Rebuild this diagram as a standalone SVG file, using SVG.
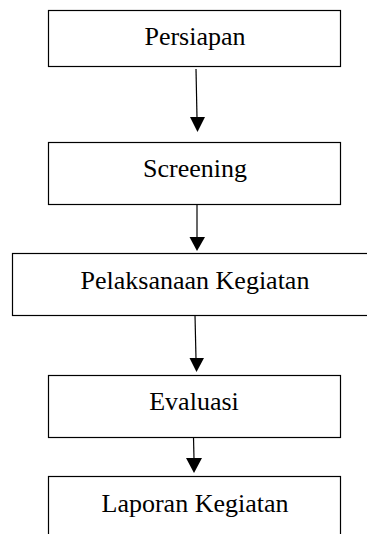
<svg xmlns="http://www.w3.org/2000/svg" width="367" height="534" viewBox="0 0 367 534">
<style>
.box{fill:#fff;stroke:#000;stroke-width:1.2}
.lbl{font-family:"Liberation Serif","Times New Roman",serif;font-size:26px;fill:#000;text-anchor:middle}
.edge{stroke:#000;stroke-width:1.2;fill:none}
.head{fill:#000}
</style>
<rect width="367" height="534" fill="#fff"/>
<g id="n1"><rect class="box" x="48.5" y="10.5" width="292" height="56"/><text class="lbl" x="195" y="45">Persiapan</text></g>
<g id="n2"><rect class="box" x="48.5" y="142.5" width="292" height="62"/><text class="lbl" x="195" y="177">Screening</text></g>
<g id="n3"><rect class="box" x="12.5" y="253.5" width="360" height="62"/><text class="lbl" x="195" y="289">Pelaksanaan Kegiatan</text></g>
<g id="n4"><rect class="box" x="48.5" y="375.5" width="292" height="62"/><text class="lbl" x="194" y="410">Evaluasi</text></g>
<g id="n5"><rect class="box" x="48.5" y="476.5" width="292" height="70"/><text class="lbl" x="195" y="512">Laporan Kegiatan</text></g>
<g id="edges">
<line class="edge" x1="196" y1="69" x2="197" y2="118"/><polygon class="head" points="190,117 205,117 197.5,132"/>
<line class="edge" x1="197" y1="204" x2="197" y2="238"/><polygon class="head" points="189.5,237 205,237 197,251"/>
<line class="edge" x1="195" y1="315" x2="196" y2="359"/><polygon class="head" points="189.5,358 204,358 196.5,372"/>
<line class="edge" x1="193.5" y1="437" x2="194" y2="459"/><polygon class="head" points="186,458 202,458 194,473"/>
</g>
</svg>
